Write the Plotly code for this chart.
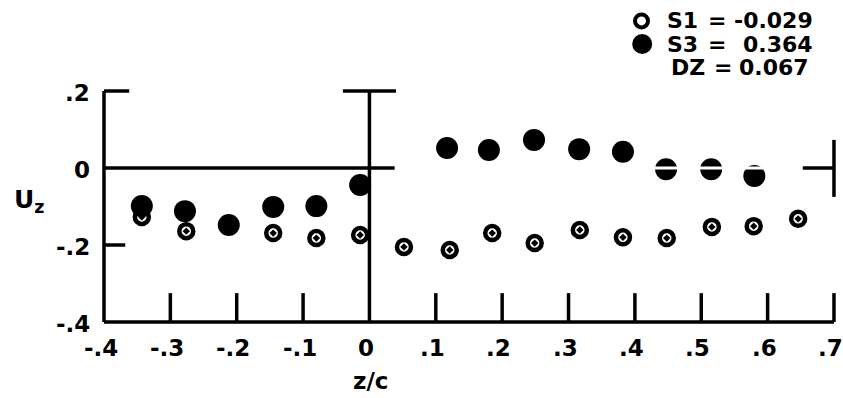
import plotly.graph_objects as go

# ---- data ----
s1_x = [-0.343, -0.276, -0.212, -0.145, -0.080, -0.014, 0.052, 0.121, 0.185, 0.249, 0.317, 0.382, 0.448, 0.516, 0.579, 0.646]
s1_y = [-0.127, -0.164, -0.150, -0.169, -0.182, -0.174, -0.205, -0.213, -0.169, -0.195, -0.161, -0.180, -0.182, -0.153, -0.151, -0.132]
s3_x = [-0.343, -0.278, -0.212, -0.145, -0.080, -0.014, 0.117, 0.180, 0.248, 0.316, 0.382, 0.447, 0.515, 0.580]
s3_y = [-0.099, -0.112, -0.148, -0.101, -0.099, -0.044, 0.052, 0.047, 0.073, 0.049, 0.042, -0.003, -0.003, -0.021]

x_ticks = [-0.4, -0.3, -0.2, -0.1, 0.0, 0.1, 0.2, 0.3, 0.4, 0.5, 0.6, 0.7]
x_tick_labels = ["-.4", "-.3", "-.2", "-.1", "0", ".1", ".2", ".3", ".4", ".5", ".6", ".7"]
y_ticks = [0.2, 0.0, -0.2, -0.4]
y_tick_labels = [".2", "0", "-.2", "-.4"]

legend_names = ["S1", "S3", "DZ"]
legend_values = ["-0.029", "0.364", "0.067"]

FONT = "DejaVu Sans"
FS = 23

fig = go.Figure()

fig.add_trace(go.Scatter(x=s1_x, y=s1_y, mode="markers", cliponaxis=False,
                         marker=dict(symbol="circle-open-dot", size=14, color="black",
                                     line=dict(width=4.5, color="black")),
                         showlegend=False))
fig.add_trace(go.Scatter(x=s3_x, y=s3_y, mode="markers", cliponaxis=False,
                         marker=dict(symbol="circle", size=22, color="black"),
                         showlegend=False))

# legend symbols
fig.add_trace(go.Scatter(x=[0.410], y=[0.382], mode="markers", cliponaxis=False,
                         marker=dict(symbol="circle-open", size=13, color="black",
                                     line=dict(width=4, color="black")), showlegend=False))
fig.add_trace(go.Scatter(x=[0.411], y=[0.322], mode="markers", cliponaxis=False,
                         marker=dict(symbol="circle", size=20, color="black"), showlegend=False))

shapes = []
def line(x0, y0, x1, y1, color="black", w=3.5):
    shapes.append(dict(type="line", xref="x", yref="y", x0=x0, y0=y0, x1=x1, y1=y1,
                       line=dict(color=color, width=w), layer="above"))

# frame
line(-0.4, -0.4, -0.4, 0.2)
line(-0.4, 0.2, -0.362, 0.2)
line(-0.4, -0.2, -0.368, -0.2)
line(-0.4, 0.0, 0.038, 0.0)
line(0.0, -0.4, 0.0, 0.2)
line(-0.04, 0.2, 0.04, 0.2)
line(-0.4, -0.4, 0.7, -0.4)
for xv in x_ticks:
    if xv not in (-0.4, 0.0):
        line(xv, -0.4, xv, -0.325)
line(0.7, -0.075, 0.7, 0.073)
line(0.653, 0.0, 0.7, 0.0)
# white stripe visible over markers
line(0.42, 0.0, 0.62, 0.0, color="white", w=3)

annotations = []
def text(x, y, t, xanchor="center", size=FS):
    annotations.append(dict(x=x, y=y, xref="x", yref="y", text="<b>%s</b>" % t, showarrow=False,
                            xanchor=xanchor, yanchor="middle",
                            font=dict(family=FONT, size=size, color="black")))

for xv, lab in zip(x_ticks, x_tick_labels):
    text(xv - 0.005, -0.468, lab)
for yv, lab in zip(y_ticks, y_tick_labels):
    text(-0.418, yv - 0.005, lab, xanchor="right")

annotations.append(dict(x=-0.513, y=-0.085, xref="x", yref="y", showarrow=False,
                        text="<b>U<sub>z</sub></b>", xanchor="center", yanchor="middle",
                        font=dict(family=FONT, size=25, color="black")))
text(0.002, -0.553, "z/c")

# legend text
row_y = [0.382, 0.322, 0.262]
name_x = [0.446, 0.446, 0.451]
eq_x = [0.524, 0.524, 0.533]
val_x = [0.672, 0.672, 0.666]
for nm, val, yv, nx, ex, vx in zip(legend_names, legend_values, row_y, name_x, eq_x, val_x):
    text(nx, yv, nm, xanchor="left", size=22)
    text(ex, yv, "=", xanchor="center", size=22)
    text(vx, yv, val, xanchor="right", size=22)

fig.update_layout(
    width=843, height=398,
    margin=dict(l=0, r=0, t=0, b=0),
    paper_bgcolor="white", plot_bgcolor="white",
    xaxis=dict(range=[-0.5567, 0.7136], visible=False, fixedrange=True),
    yaxis=dict(range=[-0.5974, 0.4364], visible=False, fixedrange=True),
    shapes=shapes, annotations=annotations,
)

fig.write_html("out.html")
